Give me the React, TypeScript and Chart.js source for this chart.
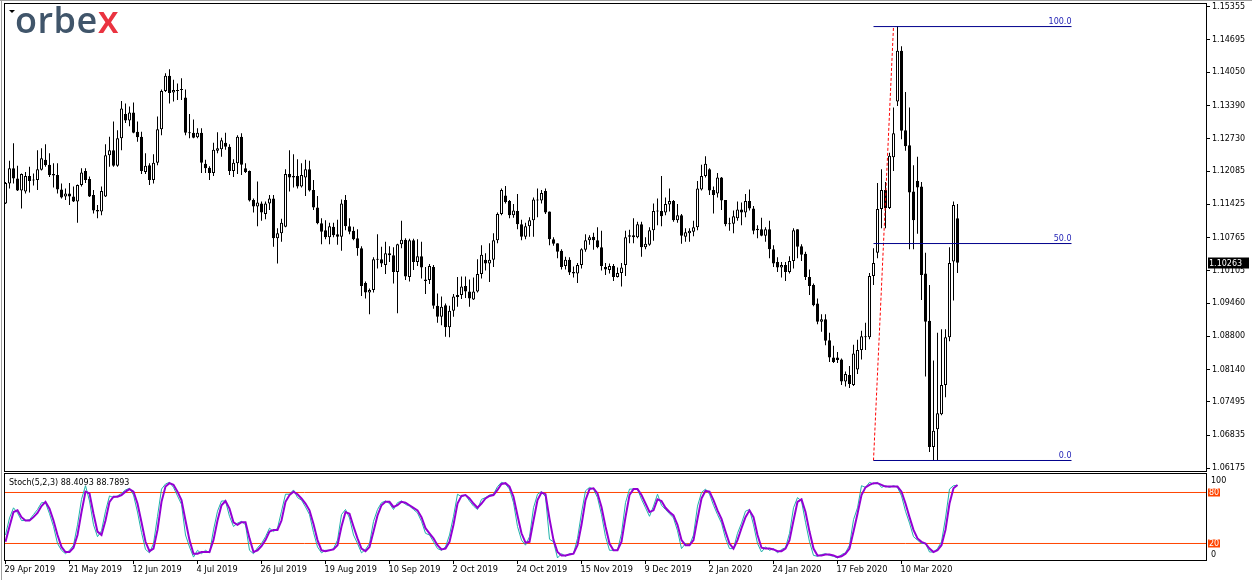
import React, { useEffect, useRef } from "react";
import { Chart, registerables } from "chart.js";

Chart.register(...registerables);

// ---------- DATA (EURUSD daily) ----------
const openP = [
  1.1144, 1.1184, 1.1214, 1.1194, 1.117, 1.1168, 1.1199, 1.119, 1.1191, 1.1211,
  1.1231, 1.1221, 1.1203, 1.1201, 1.1172, 1.1158, 1.1164, 1.1158, 1.1148, 1.1181,
  1.1209, 1.1193, 1.1161, 1.1131, 1.1128, 1.1158, 1.124, 1.125, 1.1219, 1.1274,
  1.1322, 1.1309, 1.1325, 1.1287, 1.1277, 1.1207, 1.122, 1.1191, 1.1225, 1.1292,
  1.1368, 1.1398, 1.1365, 1.137, 1.1371, 1.1355, 1.1285, 1.1285, 1.1276, 1.1285,
  1.1223, 1.1215, 1.1205, 1.1249, 1.1252, 1.1265, 1.1257, 1.1209, 1.1224, 1.1277,
  1.1214, 1.1209, 1.1151, 1.1138, 1.1144, 1.1123, 1.1144, 1.1154, 1.1075, 1.1085,
  1.1098, 1.1203, 1.1199, 1.1199, 1.1178, 1.1196, 1.1212, 1.1171, 1.1136, 1.1105,
  1.1091, 1.1077, 1.1098, 1.1083, 1.1078, 1.1151, 1.1099, 1.109, 1.1075, 1.1055,
  1.0986, 1.0967, 1.0972, 1.1032, 1.1033, 1.1022, 1.1045, 1.1041, 1.1008, 1.1063,
  1.1072, 1.0998, 1.1071, 1.1028, 1.1039, 1.0993, 1.0992, 1.1018, 1.0941, 1.0919,
  1.0942, 1.0898, 1.0931, 1.0958, 1.0962, 1.098, 1.0969, 1.0953, 1.0969, 1.1004,
  1.1032, 1.1025, 1.1032, 1.1071, 1.1123, 1.116, 1.1149, 1.1121, 1.1129, 1.1103,
  1.1078, 1.1099, 1.1111, 1.115, 1.115, 1.1169, 1.1128, 1.1073, 1.1065, 1.105,
  1.102, 1.1032, 1.1008, 1.1005, 1.1022, 1.1052, 1.1071, 1.1078, 1.1071, 1.1057,
  1.1018, 1.1012, 1.102, 1.0998, 1.1006, 1.1022, 1.1081, 1.1081, 1.1077, 1.1103,
  1.1057, 1.1062, 1.1091, 1.1128, 1.1129, 1.1126, 1.1142, 1.1149, 1.1111, 1.1121,
  1.1078, 1.1085, 1.1088, 1.1097, 1.1172, 1.1199, 1.1212, 1.1171, 1.1164, 1.1196,
  1.1151, 1.1104, 1.1104, 1.1115, 1.1132, 1.1126, 1.1149, 1.1134, 1.1094, 1.1093,
  1.108, 1.1093, 1.1053, 1.1028, 1.1017, 1.1022, 1.1008, 1.103, 1.1093, 1.1059,
  1.1044, 1.0998, 1.0982, 1.0945, 1.0909, 1.0914, 1.0872, 1.0838, 1.0838, 1.0834,
  1.079, 1.0803, 1.0783, 1.0814, 1.0853, 1.0878, 1.0878, 1.1, 1.1046, 1.1133,
  1.1171, 1.1135, 1.1236, 1.1347, 1.1448, 1.129, 1.126, 1.1168, 1.1189, 1.1178,
  1.1005, 1.0911, 1.066, 1.0695, 1.0725, 1.0783, 1.0878, 1.1029, 1.1115,
];
const highP = [
  1.1187, 1.1229, 1.1264, 1.1219, 1.1204, 1.1207, 1.1217, 1.1204, 1.125, 1.1254,
  1.1262, 1.1244, 1.1224, 1.1224, 1.1184, 1.1174, 1.1185, 1.1178, 1.1182, 1.1214,
  1.1214, 1.1198, 1.1171, 1.1141, 1.1178, 1.1262, 1.1277, 1.1307, 1.129, 1.1348,
  1.1343, 1.1337, 1.1345, 1.1307, 1.1287, 1.1244, 1.1224, 1.1242, 1.1317, 1.1371,
  1.1403, 1.1411, 1.139, 1.1383, 1.1393, 1.1371, 1.1322, 1.1311, 1.1294, 1.1294,
  1.1231, 1.1218, 1.1265, 1.1286, 1.1275, 1.1285, 1.1262, 1.1232, 1.128, 1.1284,
  1.1224, 1.121, 1.1154, 1.1188, 1.1148, 1.1148, 1.1161, 1.1161, 1.1095, 1.1114,
  1.1212, 1.125, 1.1242, 1.1232, 1.1224, 1.1231, 1.1229, 1.1191, 1.1159, 1.1115,
  1.1111, 1.1106, 1.1106, 1.1112, 1.1152, 1.1161, 1.1115, 1.1098, 1.1093, 1.1059,
  1.0989, 1.0975, 1.1037, 1.1083, 1.1058, 1.1068, 1.1059, 1.1057, 1.1064, 1.111,
  1.1075, 1.1074, 1.1074, 1.1073, 1.1068, 1.1018, 1.1024, 1.1022, 1.0965, 1.0959,
  1.0945, 1.0941, 1.0964, 1.0998, 1.0999, 1.0999, 1.0993, 1.0997, 1.1033, 1.1061,
  1.1045, 1.1065, 1.1085, 1.1126, 1.1174, 1.1179, 1.1151, 1.1143, 1.1163, 1.1112,
  1.1106, 1.1117, 1.1156, 1.1174, 1.1171, 1.1174, 1.1128, 1.1077, 1.1065, 1.1053,
  1.1038, 1.1037, 1.1019, 1.1026, 1.1055, 1.1083, 1.1081, 1.1086, 1.1097, 1.109,
  1.1026, 1.1025, 1.1024, 1.1017, 1.1026, 1.109, 1.1092, 1.1115, 1.1108, 1.1108,
  1.1077, 1.1097, 1.1144, 1.1154, 1.1199, 1.1156, 1.1174, 1.1151, 1.1143, 1.1123,
  1.1095, 1.1095, 1.111, 1.1189, 1.1221, 1.1238, 1.1214, 1.1178, 1.1205, 1.1197,
  1.1151, 1.1116, 1.113, 1.1148, 1.1146, 1.1163, 1.1172, 1.1139, 1.1101, 1.1116,
  1.1097, 1.111, 1.1061, 1.1037, 1.1028, 1.1028, 1.1039, 1.1095, 1.1093, 1.1063,
  1.1048, 1.1013, 1.0985, 1.0955, 1.0924, 1.0924, 1.0887, 1.0861, 1.0849, 1.0836,
  1.081, 1.0821, 1.0863, 1.0873, 1.0891, 1.0907, 1.1006, 1.1055, 1.1185, 1.1212,
  1.1187, 1.1245, 1.1335, 1.1497, 1.1457, 1.1366, 1.1335, 1.122, 1.1237, 1.1187,
  1.1046, 1.0982, 1.0832, 1.0887, 1.0894, 1.0894, 1.1057, 1.1148, 1.1143,
];
const lowP = [
  1.1143, 1.1174, 1.1184, 1.1169, 1.1134, 1.1164, 1.1166, 1.118, 1.1171, 1.121,
  1.1217, 1.1197, 1.1176, 1.1164, 1.1154, 1.1151, 1.1141, 1.1147, 1.1106, 1.1178,
  1.1185, 1.1157, 1.1124, 1.1115, 1.1121, 1.1157, 1.1217, 1.1217, 1.1217, 1.125,
  1.1304, 1.1298, 1.1284, 1.1267, 1.1203, 1.1203, 1.1181, 1.1184, 1.122, 1.128,
  1.1366, 1.1343, 1.1347, 1.135, 1.135, 1.128, 1.1274, 1.1274, 1.1274, 1.1205,
  1.1205, 1.1191, 1.1199, 1.1244, 1.1237, 1.1251, 1.1201, 1.1197, 1.1203, 1.1201,
  1.1205, 1.1148, 1.1126, 1.1099, 1.111, 1.1113, 1.1131, 1.1058, 1.1025, 1.1068,
  1.1097, 1.1168, 1.1176, 1.1174, 1.1176, 1.1159, 1.1168, 1.1131, 1.1103, 1.1063,
  1.1073, 1.1063, 1.1077, 1.1062, 1.105, 1.1091, 1.1083, 1.1071, 1.104, 1.096,
  1.0955, 1.0924, 1.0967, 1.1015, 1.1018, 1.1004, 1.1028, 1.0985, 1.0926, 1.1055,
  1.0992, 1.0989, 1.1012, 1.102, 1.0995, 1.0964, 1.0984, 1.0935, 1.0907, 1.0902,
  1.0879, 1.0878, 1.0919, 1.0939, 1.0954, 1.0956, 1.0939, 1.0952, 1.0967, 1.0995,
  1.1011, 1.0988, 1.1018, 1.1065, 1.1121, 1.1144, 1.1115, 1.1116, 1.1093, 1.1071,
  1.1073, 1.1078, 1.1078, 1.1117, 1.1144, 1.1123, 1.1061, 1.106, 1.1035, 1.1013,
  1.1013, 1.1002, 1.0997, 1.0986, 1.1015, 1.1048, 1.1062, 1.1052, 1.1055, 1.1011,
  1.1002, 1.1005, 1.099, 1.0997, 1.0979, 1.1, 1.1065, 1.1065, 1.1075, 1.1038,
  1.1053, 1.106, 1.107, 1.1101, 1.1099, 1.1121, 1.1128, 1.1108, 1.1106, 1.1064,
  1.1068, 1.1068, 1.1079, 1.1091, 1.117, 1.1196, 1.1161, 1.1124, 1.1156, 1.1131,
  1.1099, 1.109, 1.1085, 1.111, 1.1101, 1.1117, 1.113, 1.1083, 1.1075, 1.1079,
  1.1068, 1.1035, 1.1018, 1.1008, 1.0997, 1.099, 1.1005, 1.1015, 1.1035, 1.103,
  1.0992, 1.0962, 1.094, 1.0904, 1.0889, 1.0862, 1.0829, 1.0827, 1.0827, 1.0783,
  1.078, 1.0777, 1.0781, 1.0805, 1.0834, 1.0853, 1.0874, 1.0982, 1.1035, 1.1095,
  1.1095, 1.1133, 1.1209, 1.1338, 1.1272, 1.1249, 1.1053, 1.1053, 1.1084, 1.0952,
  1.08, 1.065, 1.0634, 1.0634, 1.0723, 1.0759, 1.087, 1.0951, 1.1006,
];
const closeP = [
  1.1185, 1.1214, 1.1194, 1.117, 1.1203, 1.1199, 1.1189, 1.1192, 1.1212, 1.1234,
  1.122, 1.1201, 1.12, 1.1172, 1.1156, 1.1164, 1.1158, 1.1148, 1.1181, 1.1206,
  1.1191, 1.1158, 1.113, 1.1128, 1.1169, 1.124, 1.125, 1.1219, 1.1274, 1.1333,
  1.1309, 1.1325, 1.1285, 1.1276, 1.1209, 1.1219, 1.1191, 1.1225, 1.1292, 1.1368,
  1.1398, 1.1364, 1.137, 1.1368, 1.137, 1.1285, 1.1284, 1.1275, 1.1285, 1.1225,
  1.1214, 1.1205, 1.1251, 1.1254, 1.127, 1.1257, 1.1209, 1.1225, 1.1277, 1.1221,
  1.1207, 1.115, 1.1138, 1.1146, 1.1126, 1.1144, 1.1154, 1.1075, 1.1085, 1.1106,
  1.1203, 1.1196, 1.1196, 1.1178, 1.1201, 1.1212, 1.117, 1.1136, 1.1105, 1.1088,
  1.1077, 1.1099, 1.1081, 1.1078, 1.1144, 1.1099, 1.1088, 1.1073, 1.1055, 1.098,
  1.0967, 1.0972, 1.1033, 1.1033, 1.1025, 1.1045, 1.1041, 1.1008, 1.1063, 1.1072,
  1.0999, 1.1071, 1.1028, 1.1039, 1.1017, 1.099, 1.102, 1.0941, 1.0919, 1.0939,
  1.0898, 1.0931, 1.0959, 1.0962, 1.0979, 1.0969, 1.0955, 1.0969, 1.1004, 1.1042,
  1.1025, 1.1032, 1.1071, 1.1123, 1.1171, 1.1147, 1.1121, 1.113, 1.1103, 1.1078,
  1.1099, 1.1111, 1.1152, 1.1152, 1.1165, 1.1126, 1.1073, 1.1064, 1.1048, 1.1018,
  1.1032, 1.1007, 1.1005, 1.1022, 1.1053, 1.1071, 1.1077, 1.1071, 1.1057, 1.102,
  1.1013, 1.102, 1.0998, 1.1006, 1.1017, 1.1077, 1.1078, 1.1077, 1.1103, 1.1057,
  1.1064, 1.1091, 1.1129, 1.1129, 1.1119, 1.1143, 1.1149, 1.1111, 1.1121, 1.108,
  1.1087, 1.109, 1.1097, 1.1174, 1.1199, 1.1223, 1.117, 1.1161, 1.1196, 1.115,
  1.1103, 1.1103, 1.1119, 1.1132, 1.1126, 1.1149, 1.1134, 1.109, 1.1091, 1.108,
  1.1093, 1.1053, 1.1025, 1.1017, 1.1022, 1.1008, 1.103, 1.1091, 1.1058, 1.1042,
  1.0998, 1.098, 1.0942, 1.0909, 1.0914, 1.0871, 1.0838, 1.0829, 1.0833, 1.079,
  1.0805, 1.0785, 1.0846, 1.0853, 1.088, 1.088, 1.1, 1.1026, 1.1133, 1.1171,
  1.1135, 1.1239, 1.1284, 1.1448, 1.1289, 1.1258, 1.1166, 1.1111, 1.1176, 1.1002,
  1.0909, 1.066, 1.0692, 1.0727, 1.0783, 1.0878, 1.1026, 1.1141, 1.10263,
];

// Stochastic (5,2,3): main (%K) and signal lines
const stochMain = [
  30, 50, 62, 56, 47, 47, 48, 54, 60, 68,
  68, 55, 40, 20, 12, 8, 12, 18, 42, 72,
  88, 70, 42, 28, 35, 58, 76, 74, 76, 79,
  83, 85, 77, 57, 33, 13, 9, 20, 52, 84,
  90, 92, 86, 76, 66, 30, 16, 4, 12, 8,
  12, 9, 36, 58, 70, 70, 52, 40, 44, 46,
  42, 12, 8, 15, 20, 28, 38, 34, 38, 58,
  78, 78, 83, 74, 71, 63, 54, 33, 16, 9,
  12, 12, 14, 24, 54, 60, 50, 30, 20, 9,
  13, 20, 46, 60, 68, 70, 67, 60, 68, 70,
  66, 64, 60, 56, 46, 32, 30, 22, 14, 12,
  16, 30, 52, 78, 75, 77, 70, 64, 60, 72,
  74, 77, 78, 87, 92, 90, 84, 68, 40, 24,
  18, 28, 62, 78, 81, 75, 25, 22, 3, 8,
  5, 8, 8, 26, 56, 82, 86, 84, 74, 54,
  28, 12, 12, 12, 32, 68, 84, 84, 84, 72,
  62, 52, 64, 78, 65, 60, 55, 50, 35, 14,
  20, 18, 30, 64, 80, 84, 78, 65, 54, 44,
  26, 14, 14, 32, 44, 58, 60, 42, 20, 10,
  16, 12, 14, 9, 13, 15, 32, 62, 74, 70,
  45, 22, 6, 5, 7, 8, 6, 5, 3, 7,
  9, 18, 48, 62, 88, 86, 92, 90, 92, 86,
  88, 86, 88, 86, 76, 58, 44, 28, 24, 20,
  20, 10, 10, 14, 22, 50, 84, 88, 88.4093,
];
const stochSignal = [
  22, 40, 57, 59, 51, 47, 47, 51, 56, 64,
  69, 61, 47, 30, 16, 10, 10, 15, 30, 57,
  81, 79, 55, 34, 30, 47, 69, 75, 75, 77,
  81, 84, 81, 67, 45, 22, 11, 14, 36, 69,
  87, 91, 89, 81, 71, 47, 24, 8, 8, 10,
  10, 10, 24, 47, 65, 70, 61, 45, 42, 45,
  45, 26, 10, 12, 17, 24, 34, 36, 36, 47,
  69, 77, 81, 78, 73, 67, 59, 43, 24, 12,
  11, 12, 13, 18, 40, 57, 55, 40, 26, 14,
  11, 16, 34, 53, 65, 69, 69, 63, 65, 69,
  68, 65, 62, 59, 51, 38, 32, 26, 18, 13,
  14, 22, 42, 67, 76, 77, 73, 67, 62, 67,
  73, 76, 77, 83, 90, 91, 87, 75, 53, 32,
  21, 22, 47, 71, 80, 78, 49, 24, 10, 6,
  6, 7, 8, 18, 42, 71, 84, 85, 79, 63,
  40, 20, 12, 12, 22, 51, 77, 84, 84, 77,
  67, 57, 59, 72, 70, 62, 57, 53, 42, 24,
  18, 18, 24, 49, 73, 82, 81, 71, 59, 49,
  34, 20, 14, 24, 38, 51, 59, 51, 30, 15,
  14, 14, 13, 11, 11, 14, 24, 47, 69, 72,
  57, 34, 14, 6, 6, 7, 7, 6, 4, 5,
  8, 14, 34, 55, 77, 86, 89, 91, 91, 89,
  87, 87, 87, 87, 81, 67, 51, 36, 26, 22,
  20, 14, 10, 12, 18, 36, 67, 85, 88.7893,
];
const stochLevels = [80, 20];
const stochScaleLabels = ["100", "0"];
const stochTitle = "Stoch(5,2,3) 88.4093 88.7893";

const priceTickLabels = [
  "1.15355", "1.14695", "1.14050", "1.13390", "1.12730", "1.12085", "1.11425", "1.10765",
  "1.10105", "1.09460", "1.08800", "1.08140", "1.07495", "1.06835", "1.06175",
];
const dateTickBars = [0, 16, 32, 48, 64, 80, 96, 112, 128, 144, 160, 176, 192, 208, 224];
const dateTickLabels = [
  "29 Apr 2019", "21 May 2019", "12 Jun 2019", "4 Jul 2019", "26 Jul 2019", "19 Aug 2019",
  "10 Sep 2019", "2 Oct 2019", "24 Oct 2019", "15 Nov 2019", "9 Dec 2019", "2 Jan 2020",
  "24 Jan 2020", "17 Feb 2020", "10 Mar 2020",
];

// Fibonacci retracement object
const fibLowPrice = 1.0633;
const fibHighPrice = 1.1496;
const fibLowBar = 217;
const fibHighBar = 222;
const fibEndBar = 266.5;
const fibLevels = [0, 50, 100];

const lastPrice = 1.10263;

// ---------- STYLE / LAYOUT ----------
const W = 1252;
const MAIN_H = 472;
const STOCH_H = 108;
const X_MIN = -0.375;
const X_MAX = 300.125;
const FONT = '"DejaVu Sans", Verdana, sans-serif';
const FIB_COLOR = "#00008c";
const FIB_TEXT = "#1c1cb4";
const LEVEL_COLOR = "#ff4500";

const fibPrice = (lvl: number) => fibLowPrice + ((fibHighPrice - fibLowPrice) * lvl) / 100;

const mainPlugin = {
  id: "mainDecor",
  afterDraw(chart: any) {
    const ctx = chart.ctx;
    const { left, top, right, bottom } = chart.chartArea;
    const xs = chart.scales.x;
    const ys = chart.scales.y;
    ctx.save();
    // outer window frame
    ctx.strokeStyle = "#a0a0a0";
    ctx.lineWidth = 1;
    ctx.beginPath();
    ctx.moveTo(0, 0.5);
    ctx.lineTo(W, 0.5);
    ctx.moveTo(1.5, 0);
    ctx.lineTo(1.5, MAIN_H);
    ctx.stroke();
    // plot frame
    ctx.strokeStyle = "#000";
    ctx.strokeRect(left + 0.5, top - 0.5, right - left, bottom - top + 1);

    // logo
    ctx.font = '600 36px "Open Sans", sans-serif';
    ctx.textBaseline = "alphabetic";
    ctx.textAlign = "left";
    try { (ctx as any).letterSpacing = "0.5px"; } catch (e) {}
    ctx.fillStyle = "#40556a";
    ctx.fillText("orbe", 15, 33);
    const w = ctx.measureText("orbe").width;
    ctx.fillStyle = "#ea3340";
    ctx.font = '600 38px "Open Sans", sans-serif';
    ctx.fillText("x", 15 + w, 33);
    try { (ctx as any).letterSpacing = "0px"; } catch (e) {}

    // small menu triangle
    ctx.fillStyle = "#000";
    ctx.beginPath();
    ctx.moveTo(9, 10);
    ctx.lineTo(15, 10);
    ctx.lineTo(12, 13);
    ctx.closePath();
    ctx.fill();

    // fib level labels
    ctx.font = `8px ${FONT}`;
    ctx.fillStyle = FIB_TEXT;
    ctx.textAlign = "right";
    ctx.textBaseline = "alphabetic";
    const xEnd = xs.getPixelForValue(fibEndBar);
    fibLevels.forEach((l) => {
      const y = ys.getPixelForValue(fibPrice(l));
      ctx.fillText(l.toFixed(1), xEnd, y - 2.5);
    });

    // current price box
    const py = Math.round(ys.getPixelForValue(lastPrice));
    ctx.fillStyle = "#000";
    ctx.fillRect(right + 2, py - 5.5, 41, 11);
    ctx.fillStyle = "#fff";
    ctx.textAlign = "left";
    ctx.textBaseline = "middle";
    ctx.fillText(lastPrice.toFixed(5), right + 3, py + 0.5);
    ctx.restore();
  },
};

const stochPlugin = {
  id: "stochDecor",
  afterDraw(chart: any) {
    const ctx = chart.ctx;
    const { left, top, right, bottom } = chart.chartArea;
    const ys = chart.scales.y;
    ctx.save();
    ctx.strokeStyle = "#a0a0a0";
    ctx.lineWidth = 1;
    ctx.beginPath();
    ctx.moveTo(1.5, 0);
    ctx.lineTo(1.5, STOCH_H);
    ctx.stroke();
    ctx.strokeStyle = "#000";
    ctx.strokeRect(left + 0.5, top + 0.5, right - left, bottom - top - 1);

    ctx.font = `8px ${FONT}`;
    ctx.textBaseline = "middle";
    ctx.textAlign = "left";
    ctx.fillStyle = "#000";
    ctx.fillText(stochTitle, left + 5, top + 10.3);

    ctx.fillText(stochScaleLabels[0], right + 5, top + 7.7);
    ctx.fillText(stochScaleLabels[1], right + 5, bottom - 6.3);

    stochLevels.forEach((lv) => {
      const y = ys.getPixelForValue(lv);
      ctx.fillStyle = LEVEL_COLOR;
      ctx.fillRect(right + 2, y - 4, 12, 8);
      ctx.fillStyle = "#fff";
      ctx.fillText(String(lv), right + 3, y + 0.5);
    });
    ctx.restore();
  },
};

export default function App() {
  const mainRef = useRef<HTMLCanvasElement>(null);
  const stochRef = useRef<HTMLCanvasElement>(null);

  useEffect(() => {
    const idx = closeP.map((_, i) => i);
    const wickData = idx.map((i) => ({ x: i, y: [lowP[i], highP[i]] }));
    const bodyData = idx.map((i) => ({ x: i, y: [openP[i], closeP[i]] }));
    const bodyColors = idx.map((i) => (closeP[i] >= openP[i] ? "#ffffff" : "#000000"));

    const fibSets = fibLevels.map((l) => ({
      type: "line",
      data: [
        { x: fibLowBar, y: fibPrice(l) },
        { x: fibEndBar, y: fibPrice(l) },
      ],
      borderColor: FIB_COLOR,
      borderWidth: 1,
      pointRadius: 0,
      order: 0,
    }));

    const main = new Chart(mainRef.current as HTMLCanvasElement, {
      type: "bar",
      data: {
        datasets: [
          ...fibSets,
          {
            type: "line",
            data: [
              { x: fibLowBar, y: fibLowPrice },
              { x: fibHighBar, y: fibHighPrice },
            ],
            borderColor: "#ff0000",
            borderWidth: 1,
            borderDash: [3, 2],
            pointRadius: 0,
            order: 0,
          },
          {
            type: "bar",
            data: bodyData,
            backgroundColor: bodyColors,
            borderColor: "#000",
            borderWidth: 1,
            borderSkipped: false,
            barThickness: 3,
            minBarLength: 1,
            grouped: false,
            inflateAmount: 0,
            order: 1,
          },
          {
            type: "bar",
            data: wickData,
            backgroundColor: "#000",
            borderWidth: 0,
            barThickness: 1,
            grouped: false,
            inflateAmount: 0,
            order: 2,
          },
        ] as any,
      },
      options: {
        responsive: false,
        animation: false,
        devicePixelRatio: 1,
        events: [],
        layout: { autoPadding: false, padding: { left: 4, top: 4, right: 0, bottom: 1 } },
        plugins: { legend: { display: false }, tooltip: { enabled: false } },
        scales: {
          x: {
            type: "linear",
            min: X_MIN,
            max: X_MAX,
            bounds: "data",
            offset: false,
            display: false,
            grid: { offset: false },
          },
          y: {
            type: "linear",
            position: "right",
            min: 1.06121,
            max: 1.15409,
            bounds: "data",
            beginAtZero: false,
            afterFit: (s: any) => {
              s.width = 46;
              s.paddingTop = 0;
              s.paddingBottom = 0;
            },
            afterBuildTicks: (s: any) => {
              s.ticks = priceTickLabels.map((t) => ({ value: parseFloat(t) }));
            },
            ticks: {
              callback: (_v: any, i: number) => priceTickLabels[i],
              font: { family: FONT, size: 8 },
              color: "#000",
              padding: 2,
              autoSkip: false,
            },
            grid: { display: true, drawOnChartArea: false, drawTicks: true, tickLength: 4, color: "#000" },
            border: { display: false },
          },
        },
      } as any,
      plugins: [mainPlugin],
    });

    const stoch = new Chart(stochRef.current as HTMLCanvasElement, {
      type: "line",
      data: {
        datasets: [
          {
            data: stochSignal.map((v, i) => ({ x: i, y: v })),
            borderColor: "#9400d3",
            borderWidth: 2,
            pointRadius: 0,
            order: 0,
          },
          {
            data: stochMain.map((v, i) => ({ x: i, y: v })),
            borderColor: "#20b2aa",
            borderWidth: 1,
            pointRadius: 0,
            order: 1,
          },
          ...stochLevels.map((lv) => ({
            data: [
              { x: X_MIN, y: lv },
              { x: X_MAX, y: lv },
            ],
            borderColor: LEVEL_COLOR,
            borderWidth: 1,
            pointRadius: 0,
            order: 2,
          })),
        ] as any,
      },
      options: {
        responsive: false,
        animation: false,
        devicePixelRatio: 1,
        events: [],
        layout: { autoPadding: false, padding: { left: 4, top: 1, right: 0, bottom: 0 } },
        plugins: { legend: { display: false }, tooltip: { enabled: false } },
        scales: {
          x: {
            type: "linear",
            position: "bottom",
            min: X_MIN,
            max: X_MAX,
            bounds: "data",
            offset: false,
            afterFit: (s: any) => {
              s.height = 19;
              s.paddingLeft = 0;
              s.paddingRight = 0;
            },
            afterBuildTicks: (s: any) => {
              s.ticks = dateTickBars.map((v) => ({ value: v }));
            },
            ticks: {
              callback: (_v: any, i: number) => dateTickLabels[i],
              align: "start",
              font: { family: FONT, size: 8.2 },
              color: "#000",
              padding: 1,
              autoSkip: false,
              maxRotation: 0,
              minRotation: 0,
              labelOffset: -1,
            },
            grid: { display: true, drawOnChartArea: false, drawTicks: true, tickLength: 3, color: "#000", offset: false },
            border: { display: false },
          },
          y: {
            type: "linear",
            position: "right",
            min: -0.59,
            max: 102.94,
            bounds: "data",
            afterFit: (s: any) => {
              s.width = 46;
              s.paddingTop = 0;
              s.paddingBottom = 0;
            },
            ticks: { display: false },
            grid: { display: false },
            border: { display: false },
          },
        },
      } as any,
      plugins: [stochPlugin],
    });

    return () => {
      main.destroy();
      stoch.destroy();
    };
  }, []);

  return (
    <div style={{ position: "fixed", left: 0, top: 0, width: W, height: MAIN_H + STOCH_H, background: "#fff" }}>
      <canvas
        ref={mainRef}
        width={W}
        height={MAIN_H}
        style={{ position: "absolute", left: 0, top: 0, width: W, height: MAIN_H }}
      />
      <canvas
        ref={stochRef}
        width={W}
        height={STOCH_H}
        style={{ position: "absolute", left: 0, top: MAIN_H, width: W, height: STOCH_H }}
      />
    </div>
  );
}
